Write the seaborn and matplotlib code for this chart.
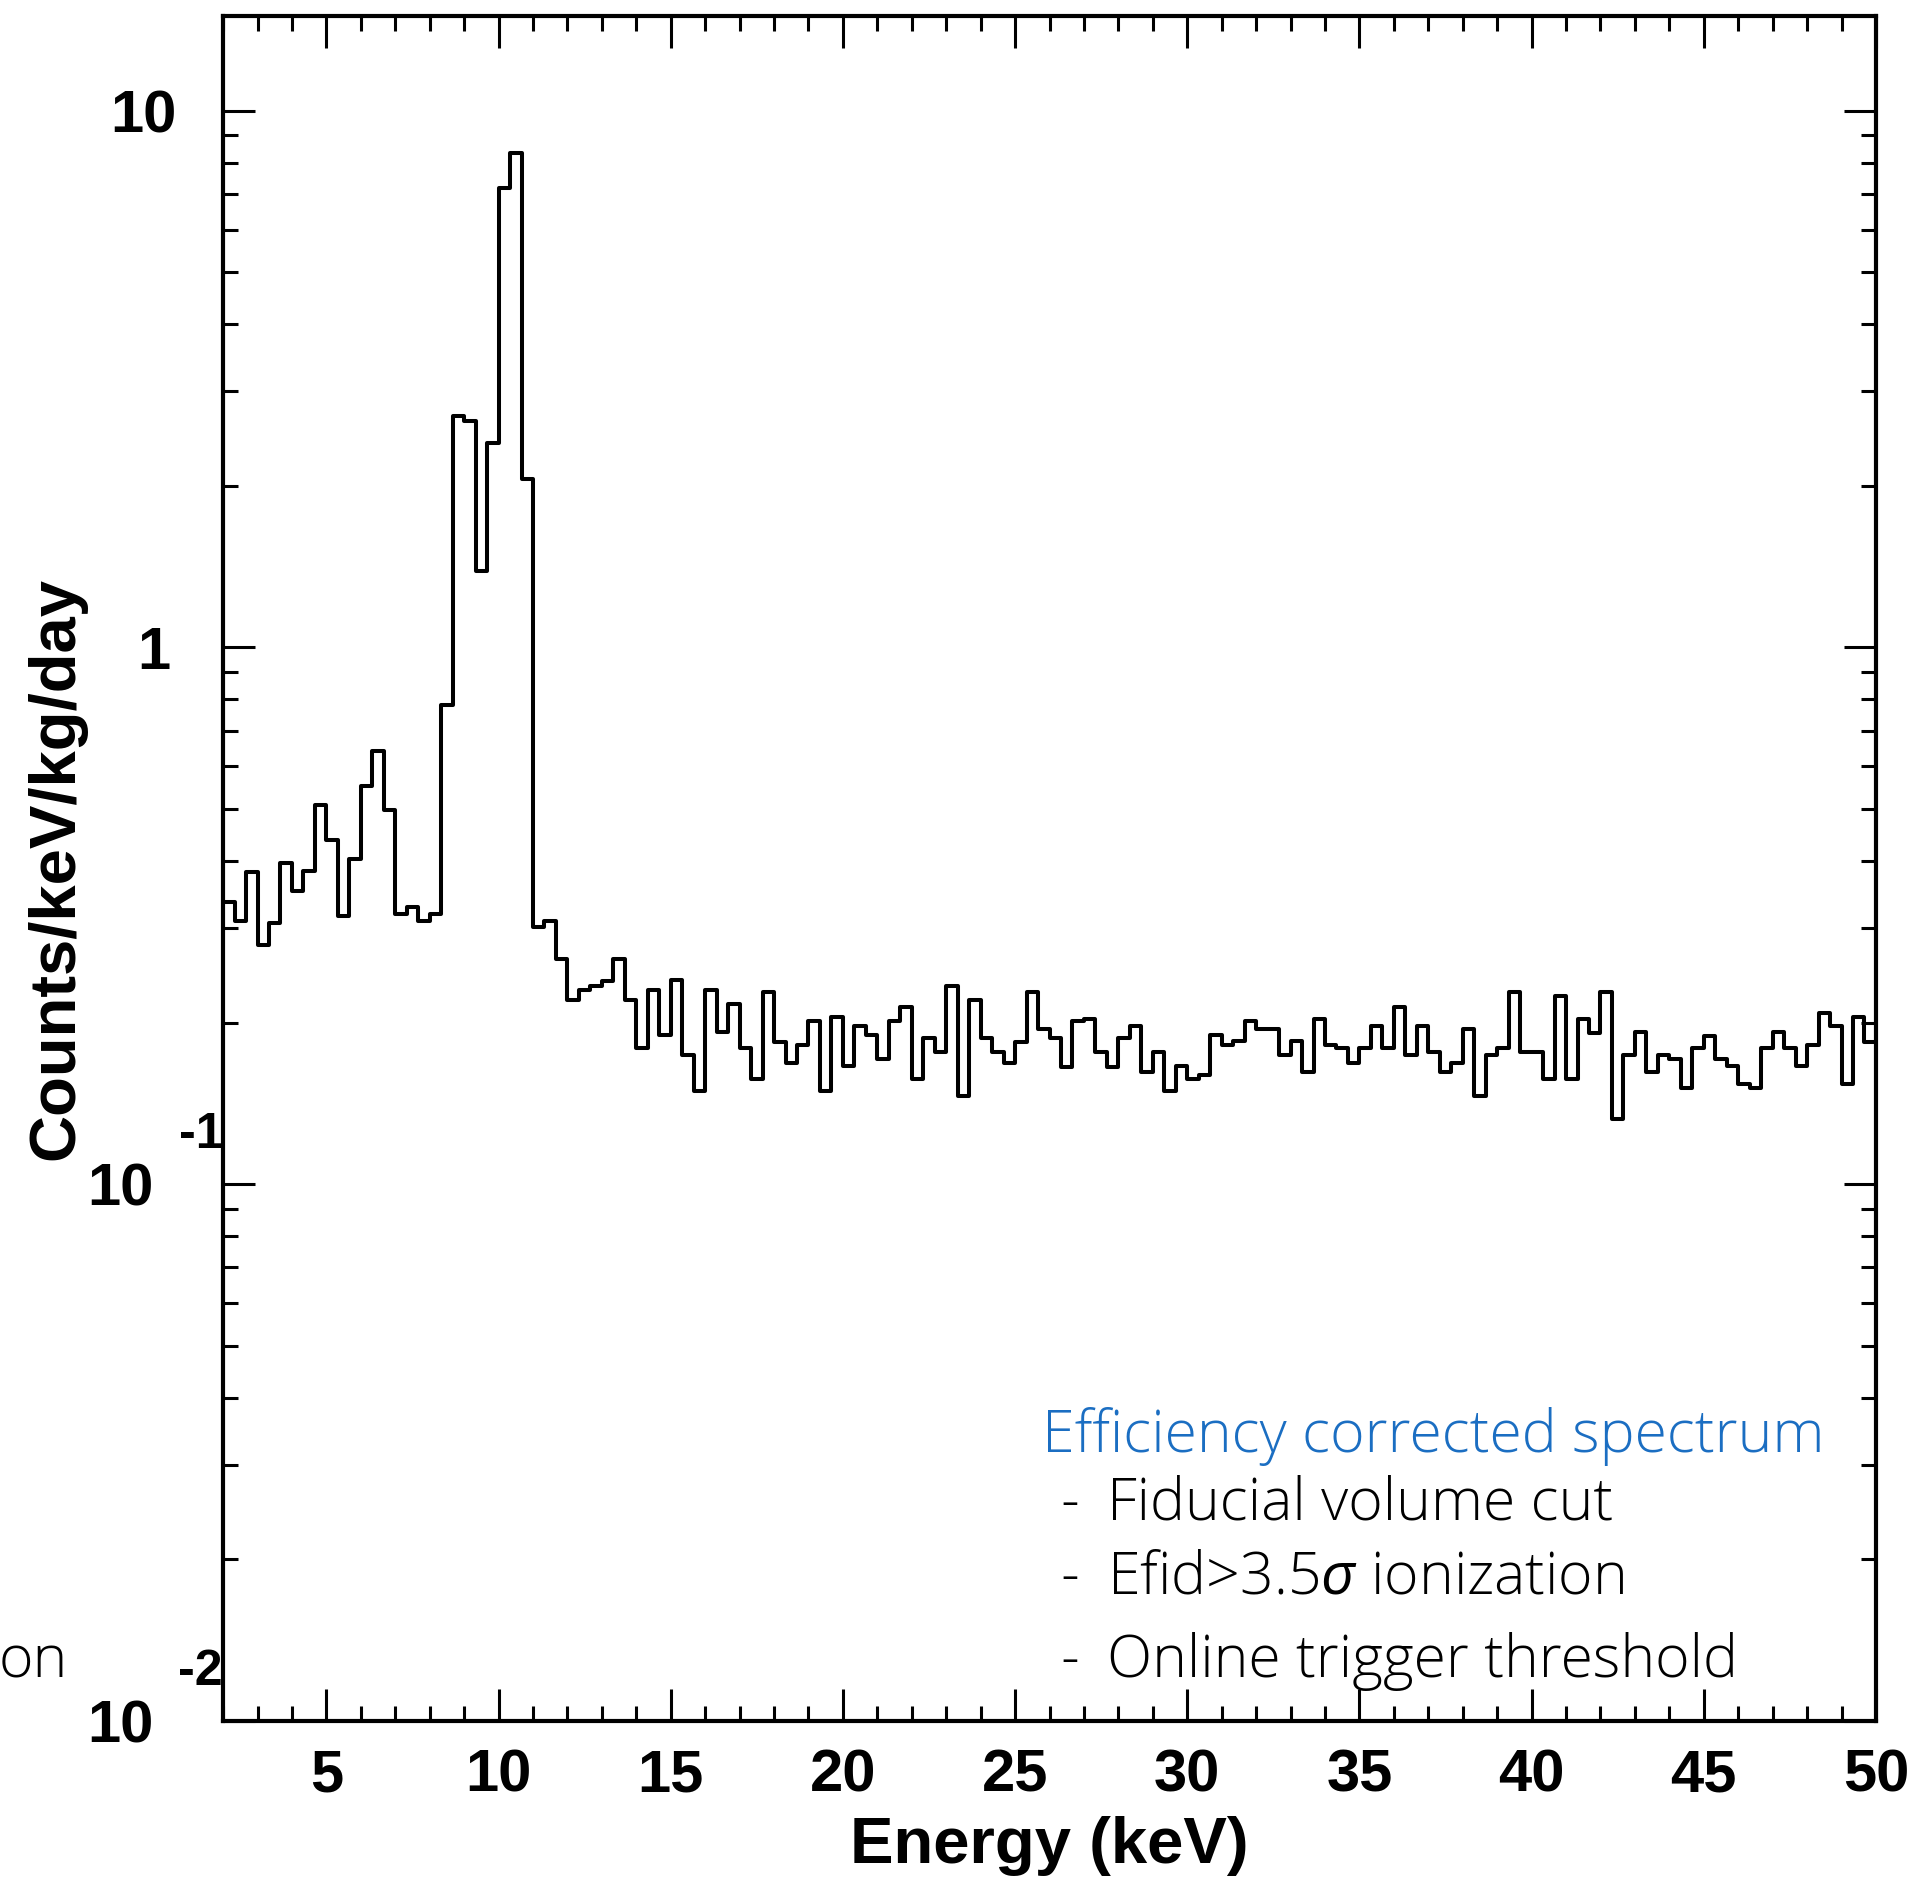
import numpy as np
import pandas as pd
import seaborn as sns
import matplotlib.pyplot as plt
import matplotlib.transforms as mtransforms
from matplotlib.ticker import MultipleLocator, LogLocator, NullFormatter

# --- Data: efficiency corrected spectrum, 1/3 keV bins from 2 to 50 keV ---
e_min, e_max, n_bins = 2.0, 50.0, 144
rate = [
    0.335, 0.309, 0.381, 0.279, 0.306, 0.397, 0.352, 0.384, 0.509, 0.437,
    0.316, 0.403, 0.551, 0.641, 0.498, 0.319, 0.329, 0.309, 0.319, 0.782,
    2.70, 2.64, 1.39, 2.40, 7.19, 8.35, 2.06, 0.302, 0.309, 0.263,
    0.220, 0.230, 0.234, 0.239, 0.263, 0.220, 0.179, 0.230, 0.190, 0.240,
    0.174, 0.149, 0.230, 0.192, 0.217, 0.179, 0.157, 0.228, 0.184, 0.168,
    0.182, 0.201, 0.149, 0.205, 0.166, 0.197, 0.190, 0.171, 0.201, 0.214,
    0.157, 0.187, 0.176, 0.234, 0.146, 0.220, 0.187, 0.176, 0.168, 0.184,
    0.228, 0.195, 0.187, 0.165, 0.201, 0.203, 0.176, 0.165, 0.187, 0.197,
    0.162, 0.176, 0.149, 0.166, 0.157, 0.160, 0.190, 0.182, 0.185, 0.201,
    0.195, 0.195, 0.174, 0.185, 0.162, 0.203, 0.182, 0.179, 0.168, 0.179,
    0.197, 0.179, 0.214, 0.174, 0.197, 0.176, 0.162, 0.168, 0.195, 0.146,
    0.174, 0.179, 0.228, 0.176, 0.176, 0.157, 0.224, 0.157, 0.203, 0.191,
    0.228, 0.132, 0.174, 0.192, 0.162, 0.174, 0.171, 0.151, 0.179, 0.189,
    0.171, 0.166, 0.154, 0.151, 0.179, 0.192, 0.179, 0.166, 0.182, 0.208,
    0.197, 0.154, 0.205, 0.184,
]

x_ticks = [5, 10, 15, 20, 25, 30, 35, 40, 45, 50]
y_tick_values = [10, 1, 0.1, 0.01]
y_tick_text = ["10", "1", "10", "10"]
y_exp_text = ["", "", "-1", "-2"]

legend_title = "Efficiency corrected spectrum"
legend_items = ["Fiducial volume cut", r"Efid>3.5$\sigma$ ionization", "Online trigger threshold"]

# --- Style ---
sns.set_theme(style="ticks")
plt.rcParams["font.family"] = ["Liberation Sans", "DejaVu Sans"]
plt.rcParams["axes.linewidth"] = 3.0
for key in ["text.color", "axes.labelcolor", "axes.edgecolor", "xtick.color", "ytick.color"]:
    plt.rcParams[key] = "black"
plt.rcParams["mathtext.fontset"] = "custom"
plt.rcParams["mathtext.it"] = "Open Sans:italic"

fig = plt.figure(figsize=(19.33, 18.91), dpi=100)
ax = fig.add_axes([0.1154, 0.0899, 0.8551, 0.9016])

bin_width = (e_max - e_min) / n_bins
df = pd.DataFrame({
    "energy": e_min + bin_width * (np.arange(n_bins) + 0.5),
    "rate": rate,
})

sns.histplot(data=df, x="energy", weights="rate", bins=n_bins,
             binrange=(e_min, e_max), element="step", fill=False,
             color="black", linewidth=2.9, ax=ax)

ax.set_yscale("log")
ax.set_xlim(e_min, e_max)
ax.set_ylim(0.01, 15)

# --- Ticks ---
ax.xaxis.set_minor_locator(MultipleLocator(1))
ax.set_xticks(x_ticks, labels=[str(t) for t in x_ticks], fontsize=43, fontweight="bold")
ax.yaxis.set_major_locator(LogLocator(base=10, numticks=10))
ax.yaxis.set_minor_locator(LogLocator(base=10, subs=np.arange(2, 10), numticks=20))
ax.yaxis.set_major_formatter(NullFormatter())
ax.yaxis.set_minor_formatter(NullFormatter())
ax.tick_params(which="major", direction="in", length=23, width=2.2,
               top=True, right=True, pad=20)
ax.tick_params(which="minor", direction="in", length=11, width=2.2,
               top=True, right=True)
ax.tick_params(axis="y", which="both", labelleft=False)

# y tick labels drawn as text, as in the original (odd exponent placement)
ytrans = mtransforms.blended_transform_factory(ax.transAxes, ax.transData)
label_x = [-0.028, -0.032, -0.042, -0.042]
for val, txt, exp, lx in zip(y_tick_values, y_tick_text, y_exp_text, label_x):
    ax.text(lx, val, txt, transform=ytrans, ha="right", va="center_baseline",
            fontsize=43, fontweight="bold", clip_on=False)
    if exp:
        ax.text(0.0, val * 1.26, exp, transform=ytrans, ha="right",
                va="center_baseline", fontsize=36, fontweight="bold", clip_on=False)

# --- Axis labels ---
ax.set_xlabel("Energy (keV)", fontsize=47, fontweight="bold")
ax.xaxis.set_label_coords(0.5, -0.0557)
ax.set_ylabel("Counts/keV/kg/day", fontsize=47, fontweight="bold")
ax.yaxis.set_label_coords(-0.0829, 0.5)

# --- Annotation block ---
note_font = dict(family=["Open Sans", "DejaVu Sans"], fontweight="light", fontsize=42.5)
ax.text(0.4955, 0.1578, legend_title, transform=ax.transAxes, color="#1b6ec2",
        va="baseline", **note_font)
for yy, item in zip([0.1179, 0.0745, 0.0258], legend_items):
    ax.text(0.5064, yy, "-", transform=ax.transAxes, va="baseline", color="black", **note_font)
    ax.text(0.5348, yy, item, transform=ax.transAxes, va="baseline", color="black", **note_font)

# fragment of a neighbouring panel's text, cut by the image edge
fig.text(68 / 1933, 1 - 1677 / 1891, "on", ha="right", va="baseline", color="black", **note_font)

fig.savefig("out.png", dpi=100)
